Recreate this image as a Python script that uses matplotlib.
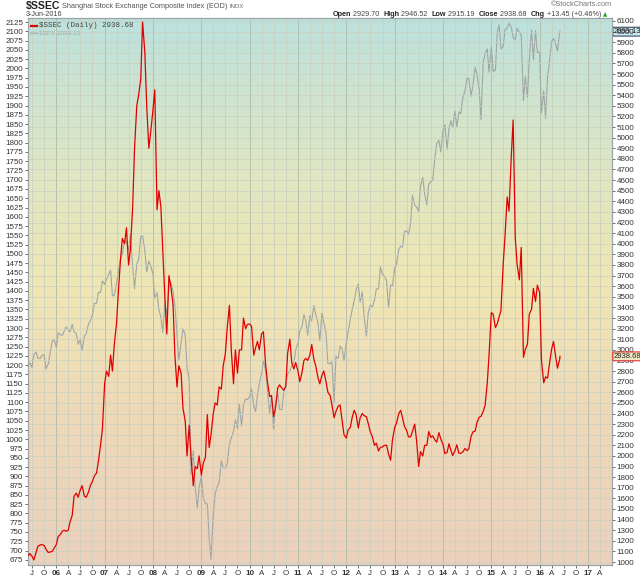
import numpy as np
import pandas as pd
import matplotlib
matplotlib.use("Agg")
import matplotlib.pyplot as plt
from matplotlib.colors import LinearSegmentedColormap
from matplotlib.lines import Line2D
import matplotlib.transforms as mtrans

plt.rcParams['font.family'] = ['Liberation Sans', 'DejaVu Sans']

# semi-monthly readings (1st and 15th), Jun 2005 .. Jun 1 2016, then Jun 3 2016
ssec = [
    1060, 1080, 1055, 1020, 1090, 1150, 1160, 1165, 1155, 1120, 1090, 1095, 1100, 1130,  # 2005
    1165, 1240, 1260, 1290, 1300, 1290, 1300, 1380, 1440, 1620, 1650, 1610,
    1680, 1720, 1620, 1610, 1660, 1720, 1760, 1810, 1840, 1950, 2100, 2250,  # 2006
    2680, 2800, 2750, 2950, 2800, 3050, 3250, 3550, 3850, 4050, 4000, 4150,
    3800, 3950, 4350, 4900, 5300, 5400, 5550, 6090, 5800, 5300, 4900, 5050,  # 2007
    5260, 5450, 4320, 4500, 4350, 3950, 3470, 3150, 3700, 3600, 3430, 2950,
    2650, 2850, 2780, 2450, 2330, 2000, 2290, 1990, 1720, 1900, 1880, 2000,  # 2008
    1820, 1930, 1990, 2390, 2080, 2200, 2400, 2500, 2480, 2650, 2630, 2850,
    2960, 3200, 3420, 3000, 2680, 3000, 2780, 3000, 3000, 3300, 3200, 3240,  # 2009
    3243, 3224, 2950, 3020, 3080, 3000, 3150, 3170, 2870, 2700, 2560, 2570,
    2370, 2450, 2640, 2670, 2640, 2620, 2656, 2970, 3100, 2880, 2820, 2880,  # 2010
    2800, 2700, 2790, 2900, 2920, 2900, 2950, 3050, 2910, 2850, 2740, 2680,
    2760, 2800, 2700, 2600, 2570, 2480, 2360, 2420, 2470, 2480, 2330, 2200,  # 2011
    2169, 2245, 2270, 2366, 2430, 2390, 2262, 2360, 2400, 2380, 2370, 2306,
    2225, 2185, 2100, 2120, 2047, 2080, 2086, 2100, 2100, 2020, 1960, 2150,  # 2012
    2270, 2310, 2400, 2430, 2360, 2280, 2240, 2180, 2180, 2230, 2300, 2150,
    1900, 2040, 2000, 2100, 2100, 2230, 2175, 2190, 2150, 2130, 2220, 2160,  # 2013
    2109, 2023, 2033, 2115, 2056, 2004, 2047, 2105, 2026, 2025, 2039, 2070,
    2050, 2067, 2185, 2226, 2235, 2315, 2364, 2373, 2420, 2478, 2680, 2953,  # 2014
    3351, 3336, 3210, 3246, 3310, 3372, 3810, 4084, 4441, 4308, 4828, 5166,
    4054, 3805, 3660, 3965, 2930, 3005, 3052, 3338, 3382, 3580, 3456, 3610,  # 2015
    3540, 2900, 2689, 2746, 2733, 2864, 3009, 3078, 2938, 2827,  # 2016
    2913, 2938.68,
]
spx = [
    1200, 1206, 1194, 1228, 1235, 1219, 1218, 1227, 1228, 1190, 1203, 1231, 1264, 1270,  # 2005
    1248, 1287, 1282, 1280, 1291, 1303, 1295, 1290, 1310, 1290, 1285, 1256,
    1270, 1240, 1278, 1285, 1311, 1319, 1336, 1366, 1367, 1396, 1396, 1427,  # 2006
    1418, 1431, 1445, 1456, 1387, 1387, 1421, 1453, 1486, 1500, 1536, 1532,
    1510, 1552, 1465, 1406, 1473, 1484, 1547, 1548, 1509, 1451, 1481, 1467,  # 2007
    1447, 1380, 1395, 1349, 1330, 1288, 1370, 1334, 1409, 1423, 1400, 1360,
    1284, 1214, 1260, 1298, 1282, 1192, 1161, 907, 968, 873, 816, 868,  # 2008
    903, 843, 826, 826, 735, 676, 798, 852, 873, 883, 942, 923,
    923, 933, 987, 1004, 1021, 1052, 1029, 1096, 1036, 1093, 1109, 1107,  # 2009
    1115, 1136, 1090, 1075, 1119, 1150, 1178, 1211, 1187, 1135, 1070, 1115,
    1027, 1096, 1125, 1080, 1080, 1125, 1146, 1176, 1185, 1198, 1206, 1242,  # 2010
    1258, 1293, 1305, 1336, 1320, 1281, 1333, 1319, 1361, 1338, 1314, 1265,
    1340, 1316, 1286, 1204, 1204, 1209, 1099, 1224, 1218, 1251, 1244, 1212,  # 2011
    1258, 1289, 1324, 1350, 1374, 1402, 1419, 1370, 1397, 1330, 1278, 1342,
    1362, 1356, 1375, 1405, 1406, 1465, 1444, 1440, 1427, 1355, 1416, 1413,  # 2012
    1462, 1472, 1513, 1520, 1518, 1560, 1562, 1552, 1582, 1658, 1631, 1626,
    1615, 1682, 1706, 1661, 1632, 1688, 1695, 1698, 1761, 1798, 1806, 1775,  # 2013
    1831, 1848, 1782, 1838, 1859, 1841, 1885, 1842, 1883, 1878, 1924, 1937,
    1973, 1973, 1925, 1955, 2003, 1984, 1946, 1862, 2018, 2039, 2053, 1990,  # 2014
    2058, 1992, 1995, 2096, 2117, 2053, 2059, 2106, 2108, 2122, 2111, 2084,
    2077, 2108, 2098, 2091, 1913, 1978, 1923, 2023, 2104, 2023, 2102, 2043,  # 2015
    2044, 1880, 1940, 1865, 1978, 2015, 2073, 2081, 2066, 2047,  # 2016
    2099, 2099.13,
]
dates = list(pd.date_range('2005-06-01', periods=len(ssec) - 1, freq='SMS')) + [pd.Timestamp('2016-06-03')]

ssec_last = 2938.68
spx_last = 2099.13
left_ticks = np.arange(675, 2126, 25)
right_ticks = np.arange(1000, 6101, 100)
quarters = pd.date_range('2005-07-01', '2017-04-01', freq='QS')
month_letter = {4: 'A', 7: 'J', 10: 'O'}

fig = plt.figure(figsize=(6.4, 5.76), dpi=100)
ax = fig.add_axes([28 / 640, 11 / 576, 584 / 640, 547 / 576])
ax2 = ax.twinx()

# background gradient
cmap = LinearSegmentedColormap.from_list('bg', [
    (0.0, '#ebd0bd'), (0.3, '#eedab8'), (0.5, '#f0e6b3'),
    (0.72, '#dfe6c2'), (1.0, '#bce1dd')])
grad = np.linspace(0, 1, 256).reshape(-1, 1)
ax.imshow(grad, extent=[0, 1, 0, 1], transform=ax.transAxes, origin='lower',
          aspect='auto', cmap=cmap, zorder=0)

ax.set_xlim(pd.Timestamp('2005-06-01'), pd.Timestamp('2017-07-01'))
ax.set_ylim(661, 2136)
ax2.set_ylim(972, 6128)

# grid
for q in quarters:
    c = '#b0baa8' if q.month == 1 else '#cad0bf'
    ax.axvline(q, color=c, lw=0.6, zorder=1)
for t in right_ticks:
    ax2.axhline(t, color='#cad0bf', lw=0.5, zorder=1)

ax.plot(dates, spx, color='#9ea6a6', lw=0.8, zorder=3)
ax2.plot(dates, ssec, color='#e00000', lw=0.9, zorder=4)
ax.set_zorder(ax2.get_zorder() - 1)
ax2.patch.set_visible(False)

# ticks
ax.set_yticks(left_ticks)
ax.set_yticklabels([str(t) for t in left_ticks])
ax2.set_yticks(right_ticks)
ax2.set_yticklabels([str(t) for t in right_ticks])
ax.set_xticks(quarters)
labels = []
for q in quarters:
    labels.append('%02d' % (q.year % 100) if q.month == 1 else month_letter[q.month])
ax.set_xticklabels(labels)
for q, lab in zip(quarters, ax.get_xticklabels()):
    if q.month == 1:
        lab.set_fontweight('bold')
for a in (ax, ax2):
    a.tick_params(labelsize=5.8, colors='#333333', length=2.5, width=0.5, pad=1)
    for s in a.spines.values():
        s.set_color('#9aa4a8')
        s.set_linewidth(0.8)

# legend
tr = ax.transAxes
ax.add_line(Line2D([0.005, 0.016], [0.9855, 0.9855], transform=tr, color='#e00000', lw=1.6, zorder=6))
ax.text(0.019, 0.9855, r'\$SSEC (Daily) 2938.68', transform=tr, fontsize=5.4,
        family=['Liberation Mono', 'DejaVu Sans Mono'], color='#444444', va='center', zorder=6)
ax.add_line(Line2D([0.005, 0.016], [0.9725, 0.9725], transform=tr, color='#a8b0b0', lw=1.6, zorder=6))
ax.text(0.019, 0.9725, r'\$SPX 2099.13', transform=tr, fontsize=4.6,
        color='#9aa4a4', va='center', zorder=6)

# last value boxes on the right
bt = mtrans.blended_transform_factory(ax.transAxes, ax.transData)
ax.text(1.003, spx_last, '2099.13', transform=bt, fontsize=5.5, va='center', ha='left',
        color='#222222', zorder=8, clip_on=False,
        bbox=dict(boxstyle='round,pad=0.12', fc='#c9e7ee', ec='#3a4a60', lw=0.8))
bt2 = mtrans.blended_transform_factory(ax2.transAxes, ax2.transData)
ax2.text(1.003, ssec_last, '2938.68', transform=bt2, fontsize=5.5, va='center', ha='left',
         color='#222222', zorder=8, clip_on=False,
         bbox=dict(boxstyle='round,pad=0.12', fc='#f1e6c0', ec='#e03030', lw=0.8))

# header
fig.canvas.draw()
renderer = fig.canvas.get_renderer()


def place_row(parts, x, y, align='left'):
    # parts: (text, size, weight, color); x,y in pixels from top-left
    items = parts if align == 'left' else list(reversed(parts))
    for txt, size, weight, color in items:
        t = fig.text(x / 640, 1 - y / 576, txt, fontsize=size, fontweight=weight,
                     color=color, va='center', ha=align)
        w = t.get_window_extent(renderer).width
        x = x + w if align == 'left' else x - w


place_row([(r'\$SSEC', 7.6, 'bold', '#222222'),
           (' Shanghai Stock Exchange Composite Index (EOD) ', 5.3, 'normal', '#555555'),
           ('INDX', 4.3, 'normal', '#666666')], 26, 6)
place_row([('3-Jun-2016', 5.2, 'normal', '#444444')], 26, 14)
fig.text(612 / 640, 1 - 5 / 576, '\u00a9StockCharts.com', fontsize=5.3, color='#777777',
         va='center', ha='right')

fig.text(603 / 640, 1 - 15 / 576, '\u25b2', fontsize=4, color='#2a9a2a', va='center', ha='left',
         family=['DejaVu Sans'])
place_row([('Open', 5.2, 'bold', '#222222'), (' 2929.70  ', 5.2, 'normal', '#444444'),
           ('High', 5.2, 'bold', '#222222'), (' 2946.52  ', 5.2, 'normal', '#444444'),
           ('Low', 5.2, 'bold', '#222222'), (' 2915.19  ', 5.2, 'normal', '#444444'),
           ('Close', 5.2, 'bold', '#222222'), (' 2938.68  ', 5.2, 'normal', '#444444'),
           ('Chg', 5.2, 'bold', '#222222'), (' +13.45 (+0.46%) ', 5.2, 'normal', '#444444')],
          603, 15, align='right')

fig.savefig('out.png', dpi=100)
